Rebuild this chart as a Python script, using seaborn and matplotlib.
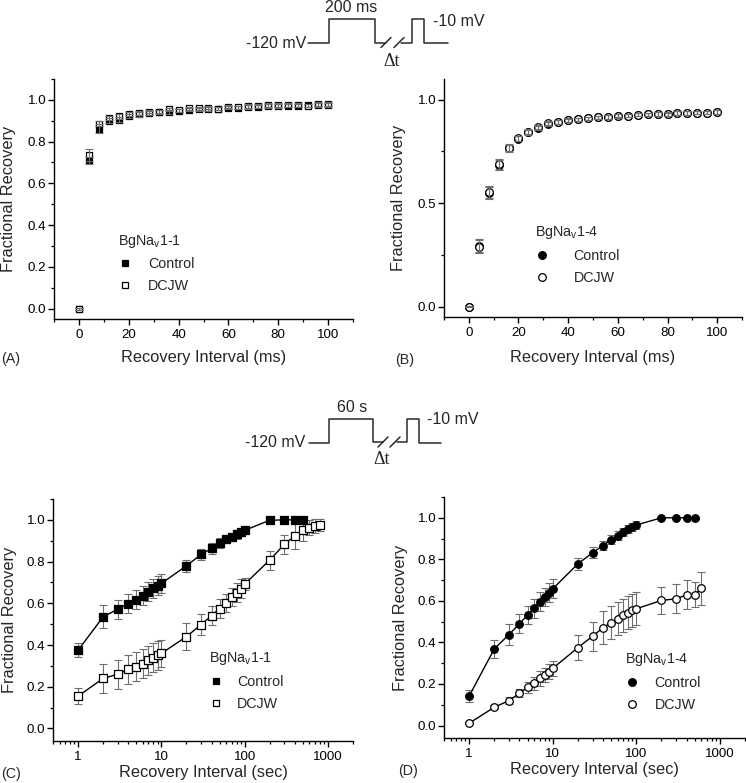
import numpy as np
import pandas as pd
import matplotlib
matplotlib.use("Agg")
import matplotlib.pyplot as plt
import seaborn as sns
from matplotlib.lines import Line2D
from matplotlib.ticker import MultipleLocator, LogLocator, NullFormatter, FixedLocator, FixedFormatter

# ---------------- data ----------------
# Panel A: BgNav1-1, 200 ms prepulse
a_x = [0, 4, 8, 12, 16, 20, 24, 28, 32, 36, 40, 44, 48, 52, 56, 60, 64, 68, 72, 76, 80, 84, 88, 92, 96, 100]
a_ctrl = [0.0, 0.71, 0.862, 0.90, 0.905, 0.922, 0.93, 0.938, 0.94, 0.942, 0.948, 0.953, 0.955, 0.957,
          0.958, 0.962, 0.963, 0.966, 0.968, 0.97, 0.97, 0.972, 0.973, 0.974, 0.975, 0.975]
a_ctrl_err = [0.005, 0.015, 0.02, 0.012, 0.012, 0.01, 0.01, 0.01, 0.01, 0.01, 0.008, 0.008, 0.008, 0.008,
              0.008, 0.008, 0.008, 0.008, 0.008, 0.008, 0.008, 0.008, 0.008, 0.008, 0.008, 0.008]
a_dcjw = [0.0, 0.735, 0.886, 0.913, 0.922, 0.933, 0.936, 0.944, 0.944, 0.955, 0.95, 0.96, 0.96, 0.962,
          0.958, 0.968, 0.965, 0.97, 0.97, 0.975, 0.975, 0.975, 0.976, 0.972, 0.98, 0.98]
a_dcjw_err = [0.005, 0.03, 0.012, 0.01, 0.012, 0.01, 0.01, 0.008, 0.008, 0.008, 0.008, 0.008, 0.008, 0.008,
              0.008, 0.008, 0.008, 0.008, 0.008, 0.008, 0.008, 0.008, 0.008, 0.008, 0.008, 0.008]

# Panel B: BgNav1-4, 200 ms prepulse
b_x = a_x
b_ctrl = [0.0, 0.295, 0.55, 0.685, 0.765, 0.812, 0.842, 0.865, 0.884, 0.893, 0.90, 0.905, 0.91, 0.914,
          0.917, 0.921, 0.922, 0.927, 0.929, 0.931, 0.931, 0.936, 0.935, 0.937, 0.938, 0.941]
b_ctrl_err = [0.004, 0.03, 0.03, 0.025, 0.018, 0.012, 0.012, 0.01, 0.01, 0.01, 0.008, 0.008, 0.008, 0.008,
              0.008, 0.008, 0.008, 0.008, 0.008, 0.008, 0.008, 0.008, 0.008, 0.008, 0.008, 0.008]
b_dcjw = [0.0, 0.29, 0.554, 0.69, 0.768, 0.814, 0.846, 0.867, 0.886, 0.894, 0.902, 0.905, 0.91, 0.915,
          0.917, 0.922, 0.922, 0.928, 0.929, 0.931, 0.93, 0.936, 0.935, 0.937, 0.938, 0.941]
b_dcjw_err = [0.004, 0.03, 0.03, 0.025, 0.018, 0.012, 0.012, 0.01, 0.01, 0.01, 0.008, 0.008, 0.008, 0.008,
              0.008, 0.008, 0.008, 0.008, 0.008, 0.008, 0.008, 0.008, 0.008, 0.008, 0.008, 0.008]

# Panel C: BgNav1-1, 60 s prepulse
c_ctrl_x = [1, 2, 3, 4, 5, 6, 7, 8, 9, 10, 20, 30, 40, 50, 60, 70, 80, 90, 100, 200, 300, 400, 500]
c_ctrl = [0.375, 0.535, 0.572, 0.599, 0.618, 0.636, 0.655, 0.671, 0.684, 0.695, 0.78, 0.834, 0.863,
          0.89, 0.907, 0.918, 0.93, 0.942, 0.95, 0.998, 1.0, 1.0, 1.0]
c_ctrl_err = [0.033, 0.055, 0.045, 0.045, 0.045, 0.045, 0.045, 0.045, 0.045, 0.045, 0.03, 0.025, 0.025,
              0.025, 0.02, 0.02, 0.02, 0.02, 0.02, 0.01, 0.005, 0.005, 0.005]
c_dcjw_x = [1, 2, 3, 4, 5, 6, 7, 8, 9, 10, 20, 30, 40, 50, 60, 70, 80, 90, 100, 200, 300, 400, 500, 600, 700, 800]
c_dcjw = [0.155, 0.24, 0.26, 0.283, 0.296, 0.31, 0.326, 0.34, 0.35, 0.36, 0.44, 0.498, 0.54, 0.575,
          0.602, 0.63, 0.65, 0.67, 0.692, 0.807, 0.883, 0.923, 0.95, 0.963, 0.97, 0.975]
c_dcjw_err = [0.04, 0.07, 0.07, 0.07, 0.07, 0.07, 0.07, 0.07, 0.07, 0.065, 0.065, 0.05, 0.045, 0.045,
              0.045, 0.045, 0.045, 0.045, 0.03, 0.045, 0.045, 0.065, 0.05, 0.035, 0.035, 0.03]

# Panel D: BgNav1-4, 60 s prepulse
d_ctrl_x = [1, 2, 3, 4, 5, 6, 7, 8, 9, 10, 20, 30, 40, 50, 60, 70, 80, 90, 100, 200, 300, 400, 500]
d_ctrl = [0.142, 0.369, 0.438, 0.49, 0.532, 0.565, 0.597, 0.618, 0.639, 0.658, 0.778, 0.832, 0.866,
          0.895, 0.914, 0.93, 0.946, 0.957, 0.965, 1.0, 1.0, 1.0, 1.0]
d_ctrl_err = [0.03, 0.045, 0.05, 0.045, 0.045, 0.045, 0.045, 0.045, 0.045, 0.045, 0.03, 0.025, 0.02,
              0.02, 0.02, 0.02, 0.02, 0.02, 0.02, 0.005, 0.005, 0.005, 0.005]
d_dcjw_x = [1, 2, 3, 4, 5, 6, 7, 8, 9, 10, 20, 30, 40, 50, 60, 70, 80, 90, 100, 200, 300, 400, 500, 600]
d_dcjw = [0.011, 0.088, 0.12, 0.155, 0.184, 0.203, 0.227, 0.243, 0.259, 0.275, 0.375, 0.43, 0.471,
          0.495, 0.514, 0.53, 0.543, 0.554, 0.562, 0.602, 0.61, 0.629, 0.629, 0.661]
d_dcjw_err = [0.005, 0.01, 0.015, 0.02, 0.025, 0.03, 0.035, 0.035, 0.035, 0.035, 0.06, 0.07, 0.08,
              0.08, 0.08, 0.08, 0.08, 0.08, 0.08, 0.065, 0.07, 0.07, 0.06, 0.08]

series_labels = ["Control", "DCJW"]
panel_titles = ["BgNa$_\\mathregular{v}$1-1", "BgNa$_\\mathregular{v}$1-4",
                "BgNa$_\\mathregular{v}$1-1", "BgNa$_\\mathregular{v}$1-4"]
xlabel_ms = "Recovery Interval (ms)"
xlabel_sec = "Recovery Interval (sec)"
ylabel = "Fractional Recovery"

# ---------------- style ----------------
sns.set_theme(style="ticks")
plt.rcParams["font.family"] = ["Liberation Sans", "DejaVu Sans"]
plt.rcParams["mathtext.fontset"] = "custom"
plt.rcParams["mathtext.rm"] = "Liberation Sans"
plt.rcParams["axes.linewidth"] = 1.0

W, H = 746, 783
fig = plt.figure(figsize=(W / 100, H / 100), dpi=100)


def rect(l, r, t, b):
    return [l / W, (H - b) / H, (r - l) / W, (b - t) / H]


axA = fig.add_axes(rect(54, 353, 79, 319))
axB = fig.add_axes(rect(444, 742, 79, 317))
axC = fig.add_axes(rect(53, 353, 499, 741))
axD = fig.add_axes(rect(444, 745, 497, 738))

ECOL = "#6e6e6e"


def draw(ax, x, y, err, marker, filled, size, err_on_top, line=False):
    df = pd.DataFrame({"x": x, "y": y})
    ax.errorbar(x, y, yerr=err, fmt="none", ecolor=ECOL, elinewidth=0.8, capsize=3,
                capthick=0.8, zorder=4 if err_on_top else 1)
    if line:
        sns.lineplot(data=df, x="x", y="y", ax=ax, color="black", linewidth=1.0,
                     estimator=None, sort=True, zorder=2)
    sns.scatterplot(data=df, x="x", y="y", ax=ax, marker=marker, s=size,
                    color="black" if filled else "white", edgecolor="black",
                    linewidth=0.9, zorder=3)


draw(axA, a_x, a_ctrl, a_ctrl_err, "s", True, 22, True)
draw(axA, a_x, a_dcjw, a_dcjw_err, "s", False, 22, True)
draw(axB, b_x, b_ctrl, b_ctrl_err, "o", True, 30, True)
draw(axB, b_x, b_dcjw, b_dcjw_err, "o", False, 30, True)

for ax in (axC, axD):
    ax.set_xscale("log")
draw(axC, c_ctrl_x, c_ctrl, c_ctrl_err, "s", True, 28, False, line=True)
draw(axC, c_dcjw_x, c_dcjw, c_dcjw_err, "s", False, 28, False, line=True)
draw(axD, d_ctrl_x, d_ctrl, d_ctrl_err, "o", True, 30, False, line=True)
draw(axD, d_dcjw_x, d_dcjw, d_dcjw_err, "o", False, 30, False, line=True)

# axes formatting
for ax in (axA, axB):
    ax.set_xlim(-10, 110)
    ax.set_ylim(-0.05, 1.1)
    ax.xaxis.set_major_locator(MultipleLocator(20))
    ax.xaxis.set_minor_locator(MultipleLocator(10))
    ax.set_xlabel(xlabel_ms)
axA.yaxis.set_major_locator(MultipleLocator(0.2))
axA.yaxis.set_minor_locator(MultipleLocator(0.1))
axB.yaxis.set_major_locator(MultipleLocator(0.5))
axB.yaxis.set_minor_locator(MultipleLocator(0.25))
axA.yaxis.set_major_formatter(plt.FuncFormatter(lambda v, p: f"{v:.1f}"))
axB.yaxis.set_major_formatter(plt.FuncFormatter(lambda v, p: f"{v:.1f}"))

for ax in (axC, axD):
    ax.set_xlim(0.5, 2000)
    ax.set_ylim(-0.06, 1.1)
    ax.xaxis.set_major_locator(FixedLocator([1, 10, 100, 1000]))
    ax.xaxis.set_major_formatter(FixedFormatter(["1", "10", "100", "1000"]))
    ax.xaxis.set_minor_locator(LogLocator(base=10, subs=np.arange(2, 10)))
    ax.xaxis.set_minor_formatter(NullFormatter())
    ax.yaxis.set_major_locator(MultipleLocator(0.2))
    ax.yaxis.set_minor_locator(MultipleLocator(0.1))
    ax.yaxis.set_major_formatter(plt.FuncFormatter(lambda v, p: f"{v:.1f}"))
    ax.set_xlabel(xlabel_sec)

for ax in (axA, axB, axC, axD):
    sns.despine(ax=ax)
    ax.set_ylabel(ylabel)
    ax.xaxis.label.set_size(11.8)
    ax.yaxis.label.set_size(11.8)
    ax.tick_params(axis="both", which="major", direction="out", length=4, width=1.0,
                   labelsize=9.6, color="black", labelcolor="black")
    ax.tick_params(axis="both", which="minor", direction="out", length=2.2, width=0.9, color="black")
    ax.tick_params(axis="x", which="major", pad=3)
    ax.tick_params(axis="y", which="major", pad=1.5)
    for sp in ax.spines.values():
        sp.set_color("black")

axA.xaxis.set_label_coords(0.5, -0.13)
axB.xaxis.set_label_coords(0.5, -0.14)
axC.xaxis.set_label_coords(0.5, -0.1)
axD.xaxis.set_label_coords(0.5, -0.1)
axA.yaxis.set_label_coords(-0.128, 0.5)
axB.yaxis.set_label_coords(-0.126, 0.5)
axC.yaxis.set_label_coords(-0.121, 0.5)
axD.yaxis.set_label_coords(-0.12, 0.5)

# legends
def legend(ax, title, marker, ms, anchor, pad):
    handles = [Line2D([], [], linestyle="none", marker=marker, markersize=ms, markerfacecolor="black",
                      markeredgecolor="black", markeredgewidth=0.9),
               Line2D([], [], linestyle="none", marker=marker, markersize=ms, markerfacecolor="white",
                      markeredgecolor="black", markeredgewidth=0.9)]
    lg = ax.legend(handles, series_labels, title=title, loc="upper left", bbox_to_anchor=anchor,
                   frameon=False, fontsize=10.3, title_fontsize=10.3, handlelength=1.0,
                   handletextpad=pad, labelspacing=0.55, borderpad=0, borderaxespad=0,
                   alignment="left")
    return lg


legend(axA, panel_titles[0], "s", 5.0, (0.215, 0.36), 1.1)
legend(axB, panel_titles[1], "o", 5.5, (0.305, 0.39), 1.7)
legend(axC, panel_titles[2], "s", 5.0, (0.52, 0.375), 0.95)
legend(axD, panel_titles[3], "o", 5.5, (0.6, 0.36), 1.1)

# panel letters
for lab, (px, py) in zip(["(A)", "(B)", "(C)", "(D)"], [(1, 359), (395, 360), (1, 774), (398, 771)]):
    fig.text(px / W, 1 - py / H, lab, fontsize=10.3, ha="left", va="center")


# protocol diagrams (figure annotations)
def pline(pts, lw=1.1, color="#2a2a2a"):
    xs = [p[0] / W for p in pts]
    ys = [1 - p[1] / H for p in pts]
    fig.add_artist(Line2D(xs, ys, transform=fig.transFigure, color=color, lw=lw))


def protocol(y_base, y_top, y_mid, x0, x1, x2, xs1, xs2, x3, x4, x5, top_label, top_label_xy,
             mv_xy, dt_xy, base_label_xy):
    pline([(x0, y_base), (x1, y_base), (x1, y_top), (x2, y_top), (x2, y_mid), (xs1 + 3, y_mid)])
    pline([(xs1 - 2, y_mid + 5), (xs1 + 8, y_mid - 5)])
    pline([(xs2 - 2, y_mid + 5), (xs2 + 8, y_mid - 5)])
    pline([(xs2 + 5, y_mid), (x3, y_mid), (x3, y_top), (x4, y_top), (x4, y_base), (x5, y_base)])
    fig.text(top_label_xy[0] / W, 1 - top_label_xy[1] / H, top_label, fontsize=11.5, ha="center", va="center")
    fig.text(mv_xy[0] / W, 1 - mv_xy[1] / H, "-10 mV", fontsize=11.5, ha="left", va="center")
    fig.text(base_label_xy[0] / W, 1 - base_label_xy[1] / H, "-120 mV", fontsize=11.5, ha="right", va="center")
    fig.text(dt_xy[0] / W, 1 - dt_xy[1] / H, "\u0394t", fontsize=13, ha="center", va="center",
             family=["Liberation Serif", "DejaVu Serif"])


protocol(43, 19, 42.5, 308, 329, 375.5, 383, 396, 412, 424, 448,
         "200 ms", (351, 8), (433, 22), (392, 62), (306, 43))
protocol(443, 419, 442, 309, 329, 373, 380, 392, 407, 419, 441,
         "60 s", (352, 408), (427, 419), (382, 460), (305, 443))

fig.savefig("out.png", dpi=100)
